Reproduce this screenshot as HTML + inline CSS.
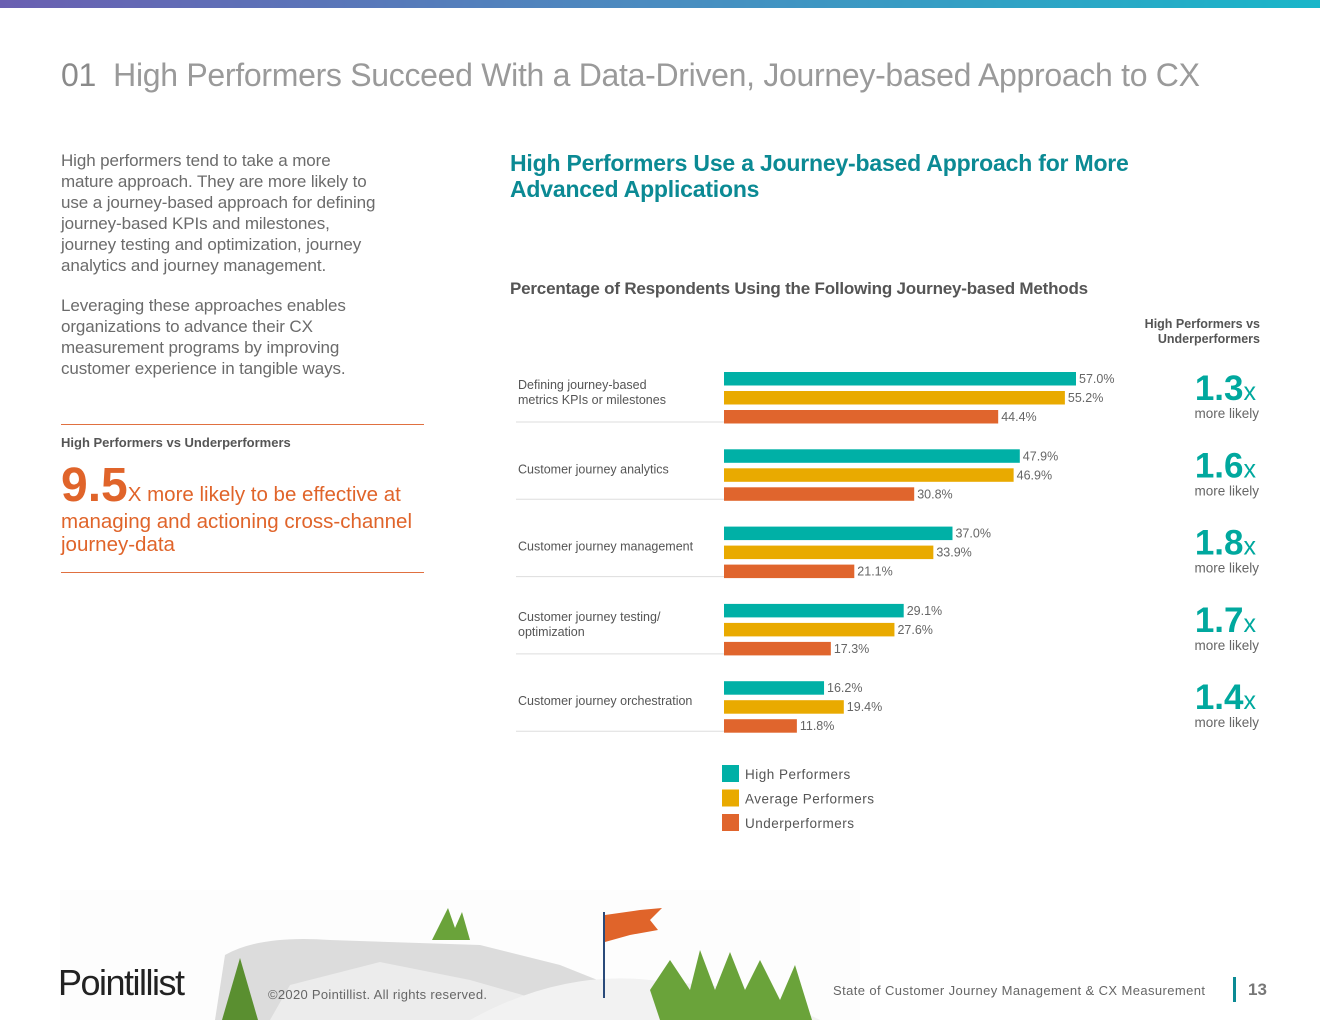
<!DOCTYPE html>
<html><head><meta charset="utf-8"><style>
body{margin:0;width:1320px;height:1020px;background:#fff;font-family:"Liberation Sans",sans-serif;position:relative;overflow:hidden}
.abs{position:absolute}
.p{color:#6b6b6b;font-size:17px;line-height:21px;font-weight:300}
</style></head><body>
<div class="abs" style="left:0;top:0;width:1320px;height:8px;background:linear-gradient(90deg,#6a5fb1,#4a8cc0 50%,#19b6c9)"></div>
<div class="abs" style="left:61px;top:57px;font-size:32px;color:#9a9a9a;font-weight:300;white-space:nowrap;letter-spacing:-0.3px"><b style="color:#8a8a8a">01</b>&nbsp; High Performers Succeed With a Data-Driven, Journey-based Approach to CX</div>
<div class="abs p" style="left:61px;top:150px;width:318px;letter-spacing:-0.1px">High performers tend to take a more mature approach. They are more likely to use a journey-based approach for defining journey-based KPIs and milestones, journey testing and optimization, journey analytics and journey management.</div>
<div class="abs p" style="left:61px;top:295px;width:320px;letter-spacing:-0.1px">Leveraging these approaches enables organizations to advance their CX measurement programs by improving customer experience in tangible ways.</div>
<div class="abs" style="left:61px;top:424px;width:363px;height:1px;background:#e07040"></div>
<div class="abs" style="left:61px;top:435px;font-size:13px;font-weight:bold;color:#555">High Performers vs Underperformers</div>
<div class="abs" style="left:61px;top:462px;width:365px;color:#e0642a;font-size:20.5px;line-height:23px"><span style="font-size:48px;font-weight:bold;line-height:48px">9.5</span>X more likely to be effective at managing and actioning cross-channel journey-data</div>
<div class="abs" style="left:61px;top:572px;width:363px;height:1px;background:#e07040"></div>
<div class="abs" style="left:510px;top:150px;font-size:23px;line-height:26px;color:#0b8a94;font-weight:bold;width:680px;letter-spacing:-0.2px">High Performers Use a Journey-based Approach for More Advanced Applications</div>
<div class="abs" style="left:510px;top:279px;font-size:17px;color:#555;font-weight:bold;letter-spacing:-0.2px">Percentage of Respondents Using the Following Journey-based Methods</div>
<div class="abs" style="left:1100px;top:317px;width:160px;text-align:right;font-size:12.5px;line-height:15px;color:#555;font-weight:bold">High Performers vs<br>Underperformers</div>
<svg class="abs" id="chart" style="left:0;top:0" width="1320" height="1020"></svg>
<svg class="abs" style="left:0;top:890px" width="1320" height="130">
<rect x="60" y="0" width="800" height="130" fill="#fdfdfd"/>
<path d="M215 130 L225 65 Q260 45 330 50 L480 55 L560 75 L610 95 L560 130 Z" fill="#dcdcdc"/>
<path d="M270 130 L290 95 L380 72 L470 90 L540 110 L580 130 Z" fill="#ececec"/>
<path d="M470 130 Q560 80 650 90 L760 100 L820 130 Z" fill="#f2f2f2"/>
<line x1="604" y1="22" x2="604" y2="108" stroke="#2a4a7a" stroke-width="2"/>
<path d="M605 25 L640 20 L662 18 L650 30 L658 40 L630 45 L605 52 Z" fill="#e0642a"/>
<path d="M432 50 L448 18 L455 38 L462 22 L470 50 Z" fill="#6aa33a"/>
<path d="M222 130 L240 68 L258 130 Z" fill="#5a8f30"/>
<path d="M650 100 L670 70 L690 100 L700 60 L715 100 L730 62 L745 100 L760 70 L780 110 L795 75 L812 130 L660 130 Z" fill="#6aa33a"/>
</svg>
<div class="abs" style="left:58px;top:962px;font-size:36px;letter-spacing:-1.5px;color:#222">Pointillist</div>
<div class="abs" style="left:268px;top:987px;font-size:13px;color:#666;letter-spacing:0.3px">©2020 Pointillist. All rights reserved.</div>
<div class="abs" style="left:833px;top:983px;font-size:13px;color:#666;letter-spacing:0.4px">State of Customer Journey Management &amp; CX Measurement</div>
<div class="abs" style="left:1233px;top:977px;width:3px;height:25px;background:#0b8a94"></div>
<div class="abs" style="left:1248px;top:980px;font-size:17px;color:#777;font-weight:bold">13</div>
<script>
const categories=[["Defining journey-based","metrics KPIs or milestones"],["Customer journey analytics"],["Customer journey management"],["Customer journey testing/","optimization"],["Customer journey orchestration"]];
const highPerformers=[57.0,47.9,37.0,29.1,16.2];
const averagePerformers=[55.2,46.9,33.9,27.6,19.4];
const underPerformers=[44.4,30.8,21.1,17.3,11.8];
const ratios=["1.3","1.6","1.8","1.7","1.4"];
const seriesNames=["High Performers","Average Performers","Underperformers"];
const colors=["#00b0a6","#e9aa00","#e0652d"];
const NS="http://www.w3.org/2000/svg";
const svg=document.getElementById('chart');
const x0=724,pxPer=352/57;
function xs(v){return v*pxPer;}
function gy(i){return 372+i*77.3;}
function mk(t,a){const e=document.createElementNS(NS,t);for(const k in a)e.setAttribute(k,a[k]);svg.appendChild(e);return e;}
const series=[highPerformers,averagePerformers,underPerformers];
categories.forEach((c,i)=>{
  const y=gy(i);
  const ln=mk('line',{x1:516,x2:724,y1:y+50,y2:y+50,stroke:'#ddd','stroke-width':1});
  
  
  const ly=c.length>1?y+17:y+24;
  c.forEach((s,j)=>{const t=mk('text',{x:518,y:ly+j*15,'font-size':12.5,fill:'#555'});t.textContent=s;
    
    });
  series.forEach((arr,s)=>{
    const by=y+s*19;
    const r=mk('rect',{x:x0,y:by,width:xs(arr[i]),height:13.5,fill:colors[s]});
    
    
    const t=mk('text',{x:x0+xs(arr[i])+3,y:by+11,'font-size':12.5,fill:'#666'});
    t.textContent=arr[i].toFixed(1)+'%';
    
    
  });
  const rt=mk('text',{x:1256,y:y+28,'text-anchor':'end','font-size':35,'font-weight':'bold',fill:'#00a89e'});
  rt.innerHTML=ratios[i]+'<tspan font-size="25" font-weight="normal">x</tspan>';
  
  
  const ml=mk('text',{x:1259,y:y+46,'text-anchor':'end','font-size':13.5,fill:'#666'});
  ml.textContent='more likely';
  
  
});
seriesNames.forEach((n,s)=>{
  const y=765+s*24.5;
  const r=mk('rect',{x:722,y:y,width:17,height:17,fill:colors[s]});
  
  
  const t=mk('text',{x:745,y:y+14,'font-size':13.5,fill:'#555','letter-spacing':0.5});
  t.textContent=n;
  
  
});
</script>
</body></html>
